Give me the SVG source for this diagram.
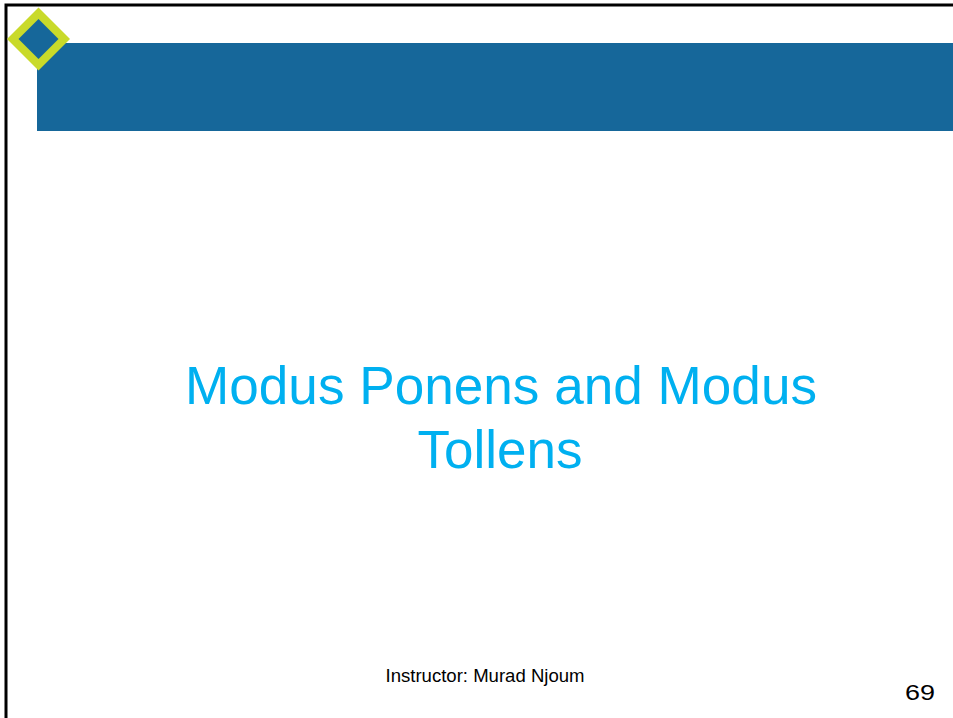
<svg xmlns="http://www.w3.org/2000/svg" width="953" height="718" viewBox="0 0 953 718">
<style>
.title{font-family:"Liberation Sans",Arial,sans-serif;font-size:54px;fill:#00B0F0;text-anchor:middle}
.foot{font-family:"Liberation Sans",Arial,sans-serif;fill:#000}
</style>
<rect x="0" y="0" width="953" height="718" fill="#fff"/>
<g id="frame">
<rect x="6" y="5" width="960" height="730" fill="none" stroke="#000" stroke-width="3"/>
</g>
<g id="banner">
<rect x="37" y="43" width="916" height="88" fill="#16679A"/>
</g>
<g id="diamond">
<polygon points="38.5,7.5 70,39 38.5,70.5 7,39" fill="#C9DA2A"/>
<polygon points="38.5,19 58.5,39 38.5,59 18.5,39" fill="#16679A"/>
</g>
<g id="title">
<text class="title" x="501" y="404" textLength="632" lengthAdjust="spacingAndGlyphs">Modus Ponens and Modus</text>
<text class="title" x="500" y="468" textLength="165" lengthAdjust="spacingAndGlyphs">Tollens</text>
</g>
<g id="footer">
<text class="foot" x="385.5" y="682" font-size="17.5" textLength="199" lengthAdjust="spacingAndGlyphs">Instructor: Murad Njoum</text>
<text class="foot" x="905" y="700" font-size="22" textLength="30" lengthAdjust="spacingAndGlyphs">69</text>
</g>
</svg>
